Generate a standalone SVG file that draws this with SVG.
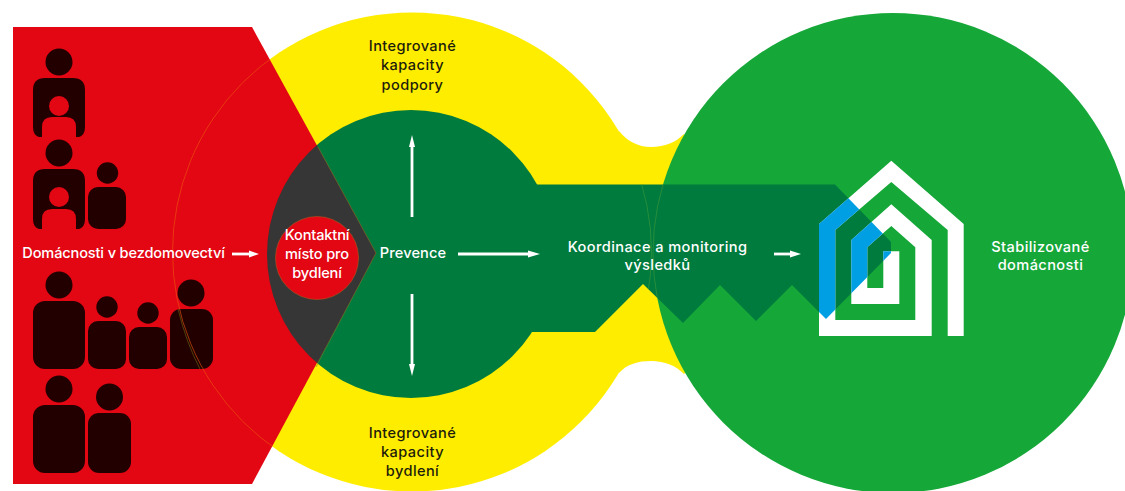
<svg xmlns="http://www.w3.org/2000/svg" width="1125" height="491" viewBox="0 0 1125 491">
<style>
.t{font-family:"Inter","Liberation Sans",sans-serif;font-size:14.6px;font-weight:500;text-anchor:middle}
.w{fill:#fff}.k{fill:#1d1d0c}
.s0{letter-spacing:-.15px}.s1{letter-spacing:.4px}.s2{letter-spacing:.1px}
.p{fill:#230000}
.r{fill:#e30613}
.a{fill:none;stroke:#fff;stroke-width:2.8}
.h{fill:#fff}
.o{fill:none;stroke-width:.6}
</style>
<defs>
<clipPath id="redclip"><path d="M13,27H252L376,253L252,484H13Z"/></clipPath>
<clipPath id="keyclip"><path d="M537,184.5H835L891,242V253L826,319L792,285L756,321L720,285L683,323L643,284L595,332H537Z"/></clipPath>
</defs>
<g id="yellow-area">
<circle cx="412" cy="252" r="239.5" fill="#ffed00"/>
<path d="M619,131C627,141 638,147 651,147C665,147 676,142 684,134L705,150V358L684,374C676,366 665,361 651,361C638,361 627,364 619,373Z" fill="#ffed00"/>
</g>
<g id="outcome-circle"><circle cx="893" cy="253" r="240" fill="#16a739"/></g>
<g id="prevention-key">
<circle cx="411" cy="254" r="144" fill="#007b3e"/>
<path d="M500,184.5H835L891,242V253L826,319L792,285L756,321L720,285L683,323L643,284L595,332H500Z" fill="#007b3e"/>
</g>
<g id="households">
<path class="r" d="M13,27H252L376,253L252,484H13Z"/>
<circle cx="411" cy="254" r="144" fill="#363636" clip-path="url(#redclip)"/>
<g id="person-1"><circle class="p" cx="59" cy="62" r="13.5"/><path class="p" d="M45,78H73Q85,78 85,90V127Q85,135 79,137H76V127Q76,117 66,117H52Q42,117 42,127V137H39Q33,135 33,127V90Q33,78 45,78Z"/><circle class="r" cx="59" cy="106" r="10"/></g>
<g id="person-2"><circle class="p" cx="59" cy="153" r="13.5"/><path class="p" d="M45,169H73Q85,169 85,181V219Q85,227 79,229H76V219Q76,209 66,209H52Q42,209 42,219V229H39Q33,227 33,219V181Q33,169 45,169Z"/><circle class="r" cx="59" cy="197" r="10"/></g>
<g id="person-3"><circle class="p" cx="107.500" cy="173" r="10.700"/><rect class="p" x="88" y="187" width="38" height="42" rx="10"/></g>
<g id="person-4"><circle class="p" cx="59" cy="285" r="13.500"/><rect class="p" x="33" y="301" width="52" height="68" rx="12"/></g>
<g id="person-5"><circle class="p" cx="107" cy="307" r="10.700"/><rect class="p" x="88" y="321" width="38" height="48" rx="10"/></g>
<g id="person-6"><circle class="p" cx="148" cy="313" r="10.700"/><rect class="p" x="129" y="327" width="38" height="42" rx="10"/></g>
<g id="person-7"><circle class="p" cx="191" cy="293" r="13.500"/><rect class="p" x="170" y="309" width="43" height="60" rx="11"/></g>
<g id="person-8"><circle class="p" cx="59" cy="389" r="13.500"/><rect class="p" x="33" y="405" width="52" height="68" rx="12"/></g>
<g id="person-9"><circle class="p" cx="109.500" cy="397" r="13.500"/><rect class="p" x="88" y="413" width="43" height="60" rx="11"/></g>
<circle class="o" cx="412" cy="252" r="239.500" stroke="#ee5a10" clip-path="url(#redclip)"/>
<path class="o" stroke="#6f6a10" d="M178,309Q186,342 200,369"/>
<path class="o" stroke="#6f7a28" d="M318,147L376,253L316,367"/>
</g>
<g id="contact-point"><circle cx="317" cy="258" r="41.500" class="r" stroke="#b5561e" stroke-width=".6"/></g>
<g id="house-logo">
<path id="house" fill="#fff" d="M947.700,336V230L891.300,182L835.300,230V320H915.300V247.300L891.300,226L867.300,247.300V288H883.300V251.300H899.300V304H851.300V240L891.300,204.300L931.700,240V336H819V224L891.300,160.700L963.700,224V336Z"/>
<path fill="#009fe3" clip-path="url(#keyclip)" d="M947.700,336V230L891.300,182L835.300,230V320H915.300V247.300L891.300,226L867.300,247.300V288H883.300V251.300H899.300V304H851.300V240L891.300,204.300L931.700,240V336H819V224L891.300,160.700L963.700,224V336Z"/>
</g>
<g id="overlap-lines" clip-path="url(#keyclip)">
<circle class="o" cx="412" cy="252" r="239.500" stroke="#3f9a3a"/>
<circle class="o" cx="893" cy="253" r="240" stroke="#3f9a3a"/>
</g>
<g id="connectors">
<path class="a" d="M412,217V145"/><path class="h" d="M412,135L415,147H409Z"/>
<path class="a" d="M412,294V366"/><path class="h" d="M412,376L415,364H409Z"/>
<path class="a" d="M232,254H252"/><path class="h" d="M259,254L249,250.500V257.500Z"/>
<path class="a" d="M458,254H530"/><path class="h" d="M540,254L528,250.500V257.500Z"/>
<path class="a" d="M774,254H792"/><path class="h" d="M801,254L790,250.500V257.500Z"/>
</g>
<g id="labels">
<text class="t k s1" x="412.500" y="51">Integrované</text>
<text class="t k s1" x="412.500" y="70">kapacity</text>
<text class="t k s1" x="412.500" y="89.500">podpory</text>
<text class="t k s1" x="412.500" y="438">Integrované</text>
<text class="t k s1" x="412.500" y="457">kapacity</text>
<text class="t k s1" x="412.500" y="476">bydlení</text>
<text class="t w s0" x="123.500" y="258">Domácnosti v bezdomovectví</text>
<text class="t w s0" x="317" y="240">Kontaktní</text>
<text class="t w s0" x="317" y="259">místo pro</text>
<text class="t w s0" x="317" y="278">bydlení</text>
<text class="t w s2" x="413" y="258">Prevence</text>
<text class="t w s1" x="657.500" y="251.500">Koordinace a monitoring</text>
<text class="t w s1" x="657.500" y="270">výsledků</text>
<text class="t w s1" x="1040.500" y="251.500">Stabilizované</text>
<text class="t w s1" x="1040.500" y="270">domácnosti</text>
</g>
</svg>
